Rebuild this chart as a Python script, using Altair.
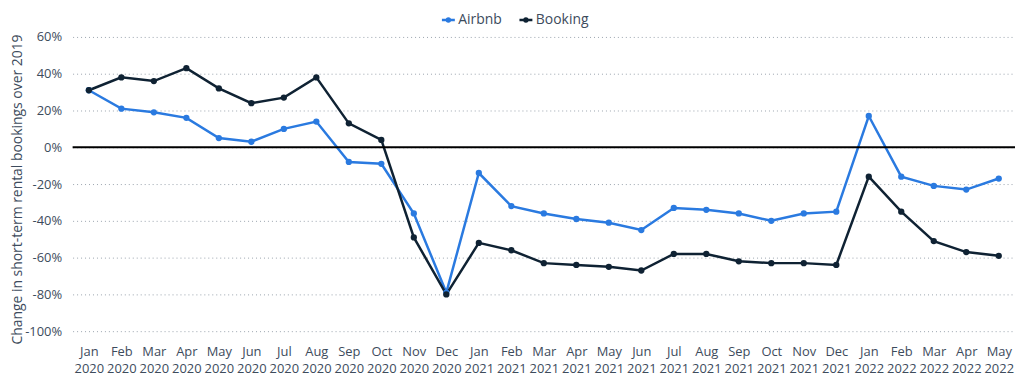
import altair as alt
import pandas as pd

months = ["Jan 2020", "Feb 2020", "Mar 2020", "Apr 2020", "May 2020", "Jun 2020",
          "Jul 2020", "Aug 2020", "Sep 2020", "Oct 2020", "Nov 2020", "Dec 2020",
          "Jan 2021", "Feb 2021", "Mar 2021", "Apr 2021", "May 2021", "Jun 2021",
          "Jul 2021", "Aug 2021", "Sep 2021", "Oct 2021", "Nov 2021", "Dec 2021",
          "Jan 2022", "Feb 2022", "Mar 2022", "Apr 2022", "May 2022"]
airbnb = [31, 21, 19, 16, 5, 3, 10, 14, -8, -9, -36, -79,
          -14, -32, -36, -39, -41, -45, -33, -34, -36, -40, -36, -35,
          17, -16, -21, -23, -17]
booking = [31, 38, 36, 43, 32, 24, 27, 38, 13, 4, -49, -80,
           -52, -56, -63, -64, -65, -67, -58, -58, -62, -63, -63, -64,
           -16, -35, -51, -57, -59]
series = ["Airbnb", "Booking"]
colors = ["#2a7ae0", "#0f2233"]
y_ticks = [60, 40, 20, 0, -20, -40, -60, -80, -100]

rows = []
for name, vals in zip(series, [airbnb, booking]):
    for m, v in zip(months, vals):
        rows.append({"month": m, "series": name, "value": v})
df = pd.DataFrame(rows)
zero_df = pd.DataFrame({"value": [0]})

text_color = "#3d4b5c"
font = "Open Sans"

x_enc = alt.X("month:N", sort=months, title=None,
              scale=alt.Scale(type="point", padding=0.5),
              axis=alt.Axis(labelExpr="split(datum.label, ' ')", labelAngle=0,
                            labelPadding=14, labelLineHeight=18, ticks=False,
                            domain=False, grid=False, labelOverlap=False,
                            labelFont=font, labelFontSize=13, labelColor=text_color))
y_axis = alt.Axis(values=y_ticks, labelExpr="datum.value + '%'",
                  ticks=False, domain=False, grid=True,
                  gridDash=[1, 3], gridColor="#9aa3ad", gridWidth=1,
                  labelPadding=11, titlePadding=0, labelOverlap=False,
                  labelFont=font, labelFontSize=13, labelColor=text_color,
                  titleFont=font, titleFontSize=14, titleColor=text_color,
                  titleFontWeight="normal", titleY=153)
y_scale = alt.Scale(domain=[-100, 60], nice=False)
y_title = "Change in short-term rental bookings over 2019"

legend_symbol = ("M-1,0H-0.23 M0.23,0H1 "
                 "M0.23,0A0.23,0.23 0 1,1 -0.23,0A0.23,0.23 0 1,1 0.23,0")

lines = alt.Chart(df).mark_line(
    strokeWidth=2.5,
    point=alt.OverlayMarkDef(filled=True, size=40)
).encode(
    x=x_enc,
    y=alt.Y("value:Q", title=y_title, scale=y_scale, axis=y_axis),
    color=alt.Color("series:N", sort=series,
                    scale=alt.Scale(domain=series, range=colors),
                    legend=alt.Legend(title=None, orient="none", direction="horizontal",
                                      legendX=370, legendY=-25,
                                      symbolType=legend_symbol, symbolSize=169,
                                      symbolStrokeWidth=2.5, columnPadding=12,
                                      labelOffset=2, labelFontSize=14,
                                      labelColor=text_color, labelFont=font)),
)

zero = alt.Chart(zero_df).mark_rule(color="#000000", strokeWidth=2).encode(
    y=alt.Y("value:Q", title=y_title, scale=y_scale, axis=y_axis)
)

chart = alt.layer(lines, zero).properties(
    width=948, height=296,
    padding={"left": 2, "top": 3, "right": 0, "bottom": 0}
).configure_view(stroke=None)

chart.save("out.html", embed_options={"renderer": "svg", "actions": False})
